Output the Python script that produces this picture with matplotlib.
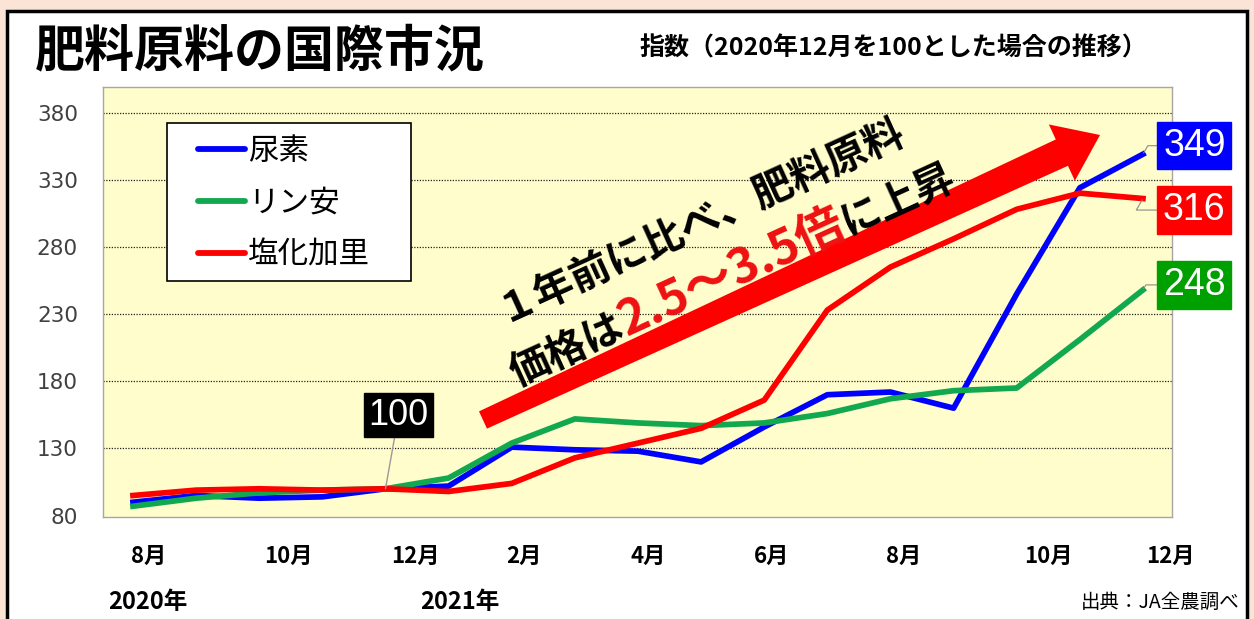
import matplotlib
matplotlib.use("Agg")
import matplotlib.pyplot as plt
import numpy as np
from matplotlib.patches import Rectangle, Polygon
from matplotlib.lines import Line2D

plt.rcParams['font.family'] = ['Noto Sans CJK JP', 'DejaVu Sans']

# index, 2020年12月 = 100
months = ['2020-08', '2020-09', '2020-10', '2020-11', '2020-12',
          '2021-01', '2021-02', '2021-03', '2021-04', '2021-05', '2021-06',
          '2021-07', '2021-08', '2021-09', '2021-10', '2021-11', '2021-12']
urea = [90, 95, 93, 94, 100, 102, 131, 129, 128, 120, 146, 170, 172, 160, 245, 324, 349]
phosphate = [87, 93, 97, 99, 100, 108, 134, 152, 149, 147, 149, 156, 167, 173, 175, 211, 248]
potash = [95, 99, 100, 99, 100, 98, 104, 123, 134, 145, 166, 233, 265, 286, 308, 320, 316]

names = ['尿素', 'リン安', '塩化加里']
line_colors = ['#0000ff', '#12a84f', '#ff0000']
box_colors = ['#0000ff', '#00a000', '#ff0000']

month_labels = ['8月', '10月', '12月', '2月', '4月', '6月', '8月', '10月', '12月']
month_pos = [0.24, 2.46, 4.48, 6.19, 8.16, 10.12, 12.21, 14.5, 16.44]
year_labels = ['2020年', '2021年']
year_pos = [0.24, 5.18]
base_idx = 4

W, H = 1254, 619
fig = plt.figure(figsize=(W / 100, H / 100), dpi=100)
fig.patch.set_facecolor('#fbe4d5')
fig.add_artist(Rectangle((7 / W, -0.1), (1247 - 7) / W, 1.1 - 11 / H,
                         transform=fig.transFigure, fc='white', ec='black',
                         lw=2.5, zorder=-1))

ax = fig.add_axes([103 / W, 1 - 517 / H, (1172 - 103) / W, (517 - 87) / H])
ax.set_facecolor('#fffdcb')
for s in ax.spines.values():
    s.set_color('#a6a6a6')
    s.set_linewidth(1)

x = np.arange(len(months))
series = [urea, phosphate, potash]
for vals, nm, c in zip(series, names, line_colors):
    ax.plot(x, vals, color=c, lw=4.1, solid_joinstyle='round', zorder=3)

ax.set_xlim(-0.475, 16.46)
ax.set_ylim(79, 399)
ax.set_yticks(range(80, 381, 50))
ax.yaxis.grid(True, linestyle=(0, (1, 1.2)), color='#222222', lw=0.9)
ax.yaxis.get_gridlines()[0].set_visible(False)
ax.set_axisbelow(True)
ax.tick_params(axis='y', length=0, pad=18, labelsize=15.5, labelcolor='#404040')
for lb in ax.get_yticklabels():
    lb.set_fontfamily('DejaVu Sans')
ax.set_xticks(month_pos, month_labels)
ax.tick_params(axis='x', length=0, pad=20, labelsize=16)
for lb in ax.get_xticklabels():
    lb.set_fontweight('bold')

trans = matplotlib.transforms.blended_transform_factory(ax.transData, ax.transAxes)
for p, lb in zip(year_pos, year_labels):
    ax.text(p, -0.198, lb, transform=trans, ha='center', va='center',
            fontsize=17, fontweight='bold')

# legend
ax.add_patch(Rectangle((167 / W, 1 - 281 / H), 244 / W, 158 / H,
                       transform=fig.transFigure, fc='white', ec='black',
                       lw=1.2, zorder=5, clip_on=False))
handles = [Line2D([], [], color=c, lw=4.2, solid_capstyle='round') for c in line_colors]
leg = ax.legend(handles, names, loc='upper left',
                bbox_to_anchor=(198 / W, 1 - 136 / H), bbox_transform=fig.transFigure,
                frameon=False, fontsize=22, handlelength=1.55, handletextpad=0.1,
                labelspacing=0.68, borderpad=0, borderaxespad=0)
leg.set_zorder(6)

# end value boxes
offsets = {0: 6.1, 1: 3.6, 2: -8.3}
for i, vals in enumerate(series):
    ax.annotate(str(vals[-1]), xy=(x[-1], vals[-1]), xytext=(37, offsets[i]),
                textcoords='offset points', ha='center', va='center',
                fontsize=27, family='Liberation Sans', color='white',
                bbox=dict(boxstyle='square,pad=0.15', fc=box_colors[i], ec=box_colors[i]),
                arrowprops=dict(arrowstyle='-', color='#8a8a8a', lw=0.8,
                                shrinkA=0, shrinkB=1,
                                connectionstyle='angle,angleA=0,angleB=60,rad=0'),
                zorder=7, annotation_clip=False)

ax.annotate('100', xy=(x[base_idx], potash[base_idx]), xytext=(9.4, 53),
            textcoords='offset points', ha='center', va='center',
            fontsize=26, family='Liberation Sans', color='white',
            bbox=dict(boxstyle='square,pad=0.12', fc='black', ec='black'),
            arrowprops=dict(arrowstyle='-', color='#9a9a9a', lw=1, shrinkA=0, shrinkB=0),
            zorder=7)

# big red arrow (pixel geometry, top-left origin)
def px(pt):
    return (pt[0] / 100, (H - pt[1]) / 100)

T = np.array([483.0, 420.0])
P = np.array([1100.0, 135.0])
u = (P - T) / np.linalg.norm(P - T)
n = np.array([u[1], -u[0]])
n = -n if n[1] > 0 else n
Hb = P - 42 * u
pts = [T + 9.5 * n, Hb + 14.5 * n, Hb + 31 * n, P, Hb - 31 * n, Hb - 14.5 * n, T - 9.5 * n]
fig.add_artist(Polygon([px(p) for p in pts], closed=True, fc='#ff0000', ec='none',
                       transform=fig.dpi_scale_trans, zorder=4))

# rotated multicolor texts
renderer = fig.canvas.get_renderer()
ang = 24.5

def rich_line(start, pieces):
    cx, cy = start[0], H - start[1]
    for s, col, fs in pieces:
        t = fig.text(cx / W, cy / H, s, fontsize=fs, fontweight='bold', color=col,
                     rotation=ang, rotation_mode='anchor', ha='left', va='baseline',
                     zorder=8)
        t.set_rotation(0)
        w = t.get_window_extent(renderer).width
        t.set_rotation(ang)
        cx += w * np.cos(np.radians(ang))
        cy += w * np.sin(np.radians(ang))

rich_line((503, 322), [('１年前に比べ、肥料原料', 'black', 29)])
rich_line((517, 386), [('価格は', 'black', 29), ('2.5〜3.5倍', '#ee1111', 35),
                       ('に上昇', 'black', 29)])

fig.text(35 / W, 1 - 52 / H, '肥料原料の国際市況', fontsize=36, fontweight='bold',
         ha='left', va='center')
fig.text(640 / W, 1 - 48 / H, '指数（2020年12月を100とした場合の推移）', fontsize=18,
         fontweight='bold', ha='left', va='center')
fig.text(1240 / W, 1 - 602 / H, '出典：JA全農調べ', fontsize=14, ha='right', va='center')

fig.savefig('out.png', dpi=100, facecolor=fig.get_facecolor())
